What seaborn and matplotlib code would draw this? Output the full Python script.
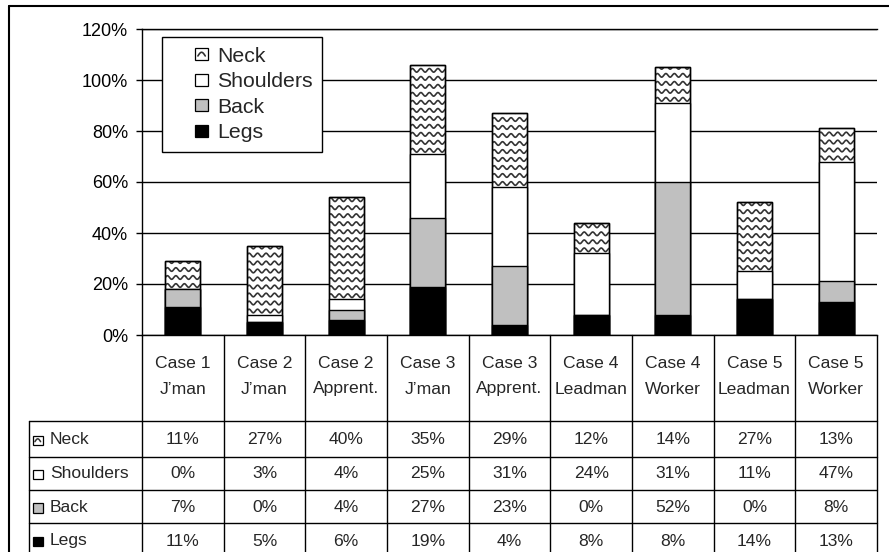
import numpy as np
import pandas as pd
import matplotlib
matplotlib.use("Agg")
import matplotlib.pyplot as plt
import seaborn as sns
from matplotlib.patches import Rectangle, Patch
from matplotlib.lines import Line2D
from matplotlib.legend_handler import HandlerBase
from matplotlib import transforms

# ---- data -------------------------------------------------------------
categories = ["Case 1\nJ\u2019man", "Case 2\nJ\u2019man", "Case 2\nApprent.",
              "Case 3\nJ\u2019man", "Case 3\nApprent.", "Case 4\nLeadman",
              "Case 4\nWorker", "Case 5\nLeadman", "Case 5\nWorker"]
neck = [11, 27, 40, 35, 29, 12, 14, 27, 13]
shoulders = [0, 3, 4, 25, 31, 24, 31, 11, 47]
back = [7, 0, 4, 27, 23, 0, 52, 0, 8]
legs = [11, 5, 6, 19, 4, 8, 8, 14, 13]
series_names = ["Neck", "Shoulders", "Back", "Legs"]
y_ticks = [0, 20, 40, 60, 80, 100, 120]

df = pd.DataFrame({"case": categories, "Neck": neck, "Shoulders": shoulders,
                   "Back": back, "Legs": legs})
# running totals for the stacked bars (drawn back to front)
df["top_legs"] = df["Legs"]
df["top_back"] = df["top_legs"] + df["Back"]
df["top_shoulders"] = df["top_back"] + df["Shoulders"]
df["top_neck"] = df["top_shoulders"] + df["Neck"]

# ---- style --------------------------------------------------------------
sns.set_style("white")
plt.rcParams["font.family"] = ["Liberation Sans", "DejaVu Sans"]

W, H = 889, 552
fig = plt.figure(figsize=(W / 100, H / 100), dpi=100)
fig.patch.set_facecolor("white")


def fx(px):
    return px / W


def fy(py):
    return 1 - py / H


PL, PR, PT, PB = 142, 877, 29, 335
ax = fig.add_axes([fx(PL), fy(PB), (PR - PL) / W, (PB - PT) / H])

BAR_W = 0.43
EDGE = 1.0
GRAY = "#c0c0c0"
WAVE = "#333333"

layers = [("top_neck", "white"), ("top_shoulders", "white"),
          ("top_back", GRAY), ("top_legs", "black")]

# total bar (neck on top) first
sns.barplot(data=df, x="case", y="top_neck", order=categories, color="white",
            width=BAR_W, edgecolor="black", linewidth=EDGE, saturation=1,
            errorbar=None, zorder=2, ax=ax)
neck_patches = list(ax.patches)

# wavy fill for the neck segments
px_per_x = (PR - PL) / len(categories)
px_per_y = (PB - PT) / 120.0
wave_dx = 8.5 / px_per_x
wave_dy = 8.0 / px_per_y
wave_amp = 1.8 / px_per_y
for i, p in enumerate(neck_patches):
    x0, w, top = p.get_x(), p.get_width(), p.get_height()
    base = df["top_shoulders"].iloc[i]
    xs = np.linspace(x0, x0 + w, 160)
    for yl in np.arange(base + wave_dy * 0.45, top + wave_dy, wave_dy):
        ys = yl + wave_amp * np.sin(2 * np.pi * (xs - x0) / wave_dx)
        ln, = ax.plot(xs, ys, color=WAVE, lw=1.2, zorder=2.3)
        ln.set_clip_path(p)

# outline again above the waves
sns.barplot(data=df, x="case", y="top_neck", order=categories, fill=False,
            width=BAR_W, edgecolor="black", linewidth=EDGE, saturation=1,
            errorbar=None, zorder=2.6, ax=ax)

for k, (col, colr) in enumerate(layers[1:]):
    sns.barplot(data=df, x="case", y=col, order=categories, color=colr,
                width=BAR_W, edgecolor="black", linewidth=EDGE, saturation=1,
                errorbar=None, zorder=3 + k, ax=ax)

ax.set_xlim(-0.5, len(categories) - 0.5)
ax.set_ylim(0, 120)
ax.set_yticks(y_ticks)
ax.set_yticklabels([f"{v}%" for v in y_ticks])
ax.set_xlabel("")
ax.set_ylabel("")
ax.tick_params(axis="x", length=0, labelbottom=False)
ax.tick_params(axis="y", left=True, direction="out", length=4.0, width=1.0,
               pad=6, labelsize=13, colors="black")
ax.yaxis.grid(True, color="black", lw=1.0)
ax.set_axisbelow(True)
for side in ["left", "bottom", "top"]:
    ax.spines[side].set_visible(True)
    ax.spines[side].set_color("black")
    ax.spines[side].set_linewidth(1.0)
ax.spines["right"].set_visible(False)
ax.set_facecolor("white")


# ---- legend -------------------------------------------------------------
class SquareKey(HandlerBase):
    def __init__(self, face, wave=False, side=8.8):
        super().__init__()
        self.face = face
        self.wave = wave
        self.side = side

    def create_artists(self, legend, orig_handle, xdescent, ydescent,
                       width, height, fontsize, trans):
        s = self.side
        x0 = width - s - xdescent
        y0 = (height - s) / 2 - ydescent
        arts = [Rectangle((x0, y0), s, s, facecolor=self.face,
                          edgecolor="black", lw=0.9, transform=trans)]
        if self.wave:
            t = np.linspace(0, 1, 30)
            xs = x0 + s * (0.2 + 0.6 * t)
            ys = y0 + s * (0.35 + 0.3 * np.sin(np.pi * t))
            arts.append(Line2D(xs, ys, color=WAVE, lw=1.2, transform=trans))
        return arts


handles = [Patch(facecolor="white", edgecolor="black"),
           Patch(facecolor="white", edgecolor="black"),
           Patch(facecolor=GRAY, edgecolor="black"),
           Patch(facecolor="black", edgecolor="black")]
hmap = {handles[0]: SquareKey("white", wave=True),
        handles[1]: SquareKey("white"),
        handles[2]: SquareKey(GRAY),
        handles[3]: SquareKey("black")}
leg = ax.legend(handles, series_names, handler_map=hmap,
                loc="upper left", bbox_to_anchor=(fx(162), fy(37)),
                bbox_transform=fig.transFigure, borderaxespad=0,
                fontsize=15.3, frameon=True, fancybox=False, framealpha=1,
                edgecolor="black", borderpad=0.45, labelspacing=0.31,
                handlelength=1.7, handletextpad=0.45)
leg.get_frame().set_linewidth(1.0)
leg.set_zorder(10)

# ---- data table under the plot ------------------------------------------
tcol = transforms.blended_transform_factory(ax.transData, fig.transFigure)
LW_T = 1.0
TFS = 12.6
row_lines = [421, 457, 490, 523]
row_centers = [440, 474, 507.5, 541]
bottom_px = 560

for b in np.arange(-0.5, len(categories), 1.0):
    fig.add_artist(Line2D([b, b], [fy(PB), fy(bottom_px)], transform=tcol,
                          color="black", lw=LW_T))
fig.add_artist(Line2D([fx(29), fx(29)], [fy(row_lines[0]), fy(bottom_px)],
                      transform=fig.transFigure, color="black", lw=LW_T))
for ry in row_lines:
    fig.add_artist(Line2D([fx(29), fx(PR)], [fy(ry), fy(ry)],
                          transform=fig.transFigure, color="black", lw=LW_T))

for i, cat in enumerate(categories):
    l1, l2 = cat.split("\n")
    fig.text(i, fy(363), l1, transform=tcol, ha="center", va="center",
             fontsize=TFS)
    fig.text(i, fy(389), l2, transform=tcol, ha="center", va="center",
             fontsize=TFS)

row_values = [neck, shoulders, back, legs]
key_faces = ["white", "white", GRAY, "black"]
for name, vals, cy, face in zip(series_names, row_values, row_centers,
                                key_faces):
    for i, v in enumerate(vals):
        fig.text(i, fy(cy), f"{v}%", transform=tcol, ha="center",
                 va="center", fontsize=TFS)
    fig.text(fx(50), fy(cy), name, ha="left", va="center", fontsize=TFS)
    fig.add_artist(Rectangle((fx(33), fy(cy + 5)), 9.5 / W, 9.5 / H,
                             transform=fig.transFigure, facecolor=face,
                             edgecolor="black", lw=0.9))
    if name == "Neck":
        t = np.linspace(0, 1, 30)
        xs = fx(33 + 9.5 * (0.2 + 0.6 * t))
        ys = fy(cy + 5 - 9.5 * (0.35 + 0.3 * np.sin(np.pi * t)))
        fig.add_artist(Line2D(xs, ys, transform=fig.transFigure,
                              color=WAVE, lw=1.1))

# outer frame
fig.add_artist(Line2D([fx(9), fx(9)], [fy(6), fy(H + 10)],
                      transform=fig.transFigure, color="black", lw=1.5))
fig.add_artist(Line2D([fx(9), fx(W + 10)], [fy(6), fy(6)],
                      transform=fig.transFigure, color="black", lw=1.5))

fig.savefig("out.png", dpi=100)
